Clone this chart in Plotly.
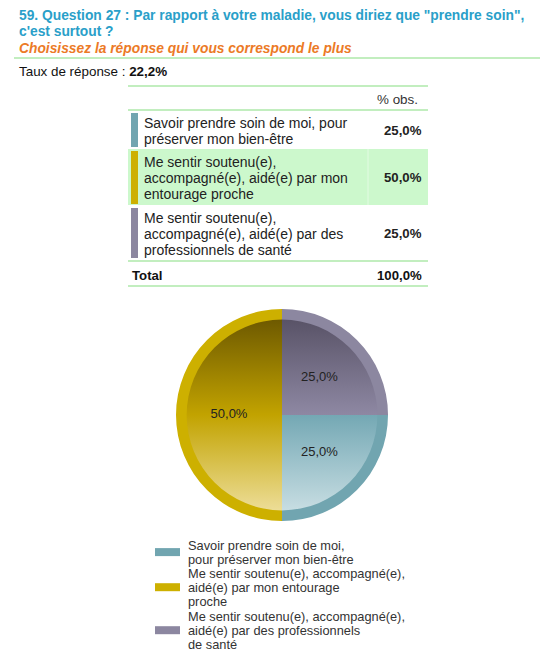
import numpy as np
import plotly.graph_objects as go

W, H = 540, 661

# ---- data -------------------------------------------------------------
title_lines = ['59. Question 27 : Par rapport à votre maladie, vous diriez que "prendre soin",',
               "c'est surtout ?"]
subtitle = "Choisissez la réponse qui vous correspond le plus"
response_rate = 22.2

categories = [
    "Savoir prendre soin de moi, pour<br>préserver mon bien-être",
    "Me sentir soutenu(e),<br>accompagné(e), aidé(e) par mon<br>entourage proche",
    "Me sentir soutenu(e),<br>accompagné(e), aidé(e) par des<br>professionnels de santé",
]
legend_labels = [
    "Savoir prendre soin de moi,<br>pour préserver mon bien-être",
    "Me sentir soutenu(e), accompagné(e),<br>aidé(e) par mon entourage<br>proche",
    "Me sentir soutenu(e), accompagné(e),<br>aidé(e) par des professionnels<br>de santé",
]
values = [25.0, 50.0, 25.0]

# ring colour and vertical gradient (bottom -> top) of each slice
ring_colors = ["#71a5b0", "#cdb000", "#8c87a0"]
grad_colors = [
    [[0, "#cadfe4"], [1, "#74a8b4"]],
    [[0, "#eedf9c"], [0.5, "#c2a300"], [1, "#6b5700"]],
    [[0, "#8e88a3"], [1, "#575165"]],
]

FONT = "Arial, Liberation Sans, sans-serif"
TITLE_BLUE = "#2a9fc9"
ORANGE = "#ec7a26"
GREEN_LINE = "#86dd80"
ROW_HL = "#ccf8cc"


def fx(px):
    return px / W


def fy(py):
    return 1 - py / H


def pct(v):
    return f"{v:.1f}%".replace(".", ",")


fig = go.Figure()
annotations = []
shapes = []


def text(x, y, s, size=13, color="#222", anchor="left", bold=False, italic=False):
    annotations.append(dict(
        x=fx(x), y=fy(y), xref="paper", yref="paper", text=s, showarrow=False,
        xanchor=anchor, yanchor="middle", align=anchor,
        font=dict(family=FONT, size=size, color=color,
                  weight="bold" if bold else "normal",
                  style="italic" if italic else "normal"),
    ))


def hline(y, x0, x1, color=GREEN_LINE, width=1.2):
    shapes.append(dict(type="line", xref="paper", yref="paper",
                       x0=fx(x0), x1=fx(x1), y0=fy(y), y1=fy(y),
                       line=dict(color=color, width=width)))


def rect(x0, y0, x1, y1, color):
    shapes.append(dict(type="rect", xref="paper", yref="paper",
                       x0=fx(x0), x1=fx(x1), y0=fy(y1), y1=fy(y0),
                       fillcolor=color, line=dict(width=0), layer="below"))


# ---- heading ----------------------------------------------------------
text(17, 15, title_lines[0], size=13.8, color=TITLE_BLUE, bold=True)
text(17, 31, title_lines[1], size=13.8, color=TITLE_BLUE, bold=True)
text(17, 48, subtitle, size=13.8, color=ORANGE, bold=True, italic=True)
hline(58, 14, 540)
text(17, 72, "Taux de réponse : <b>" + pct(response_rate) + "</b>", size=13.4, color="#111")

# ---- table ------------------------------------------------------------
TL, TR = 128, 428
hline(86, TL, TR)
text(420, 99, "% obs.", size=13.4, color="#333", anchor="right")
hline(110, TL, TR)

row_top = [111, 149, 206]
row_bot = [148, 205, 259]
line_pitch = 16
for i, (cat, v) in enumerate(zip(categories, values)):
    if i == 1:
        rect(TL, row_top[i], TR, row_bot[i], ROW_HL)
        shapes.append(dict(type="line", xref="paper", yref="paper",
                           x0=fx(368), x1=fx(368), y0=fy(row_top[i]), y1=fy(row_bot[i]),
                           line=dict(color="#e2fbe2", width=1), layer="below"))
    rect(131, row_top[i] + 2, 138, row_bot[i] - 1, ring_colors[i])
    lines = cat.split("<br>")
    mid = (row_top[i] + row_bot[i]) / 2 + 1
    first = mid - (len(lines) - 1) * line_pitch / 2
    for k, ln in enumerate(lines):
        text(142, first + k * line_pitch, ln, size=14, color="#222")
    text(424, mid, "<b>" + pct(v) + "</b>", size=13.2, color="#222", anchor="right")

hline(261, TL, TR)
text(130, 275, "<b>Total</b>", size=13.2, color="#111")
text(424, 275, "<b>" + pct(sum(values)) + "</b>", size=13.2, color="#111", anchor="right")
hline(286, TL, TR)

# ---- pie --------------------------------------------------------------
CX, CY, R = 282, 415, 106
HOLE = 0.9

# gradient-filled interior of each slice, on axes scaled so the pie radius is 1
fracs = np.array(values) / sum(values)
start_cw = 90.0  # first slice starts at 3 o'clock, slices run clockwise
edges_cw = start_cw + 360 * np.concatenate([[0], np.cumsum(fracs)])
for i in range(len(values)):
    a = np.radians(90 - np.linspace(edges_cw[i], edges_cw[i + 1], 120))
    rr = HOLE + 0.03
    xs = np.concatenate([[0], rr * np.cos(a), [0]])
    ys = np.concatenate([[0], rr * np.sin(a), [0]])
    fig.add_trace(go.Scatter(
        x=xs, y=ys, mode="lines", fill="toself", line=dict(width=0),
        fillgradient=dict(type="vertical", colorscale=grad_colors[i]),
        hoverinfo="skip", showlegend=False,
    ))
    mid_a = np.radians(90 - (edges_cw[i] + edges_cw[i + 1]) / 2)
    fig.add_trace(go.Scatter(
        x=[0.5 * np.cos(mid_a)], y=[0.5 * np.sin(mid_a)], mode="text",
        text=[pct(values[i])], textposition="middle center",
        textfont=dict(family=FONT, size=13, color="#222"),
        hoverinfo="skip", showlegend=False,
    ))

# outer ring of the slices
fig.add_trace(go.Pie(
    labels=[l.replace("<br>", " ") for l in legend_labels], values=values,
    sort=False, direction="clockwise", rotation=start_cw, hole=HOLE,
    marker=dict(colors=ring_colors, line=dict(width=0)),
    textinfo="none", hoverinfo="label+percent", showlegend=False,
    domain=dict(x=[fx(CX - R), fx(CX + R)], y=[fy(CY + R), fy(CY - R)]),
))

# ---- legend -----------------------------------------------------------
leg_first_line = [545, 573, 616]
leg_pitch = 14.2
for i, lab in enumerate(legend_labels):
    lines = lab.split("<br>")
    y0 = leg_first_line[i]
    ymid = y0 + (len(lines) - 1) * leg_pitch / 2
    rect(155, ymid - 4, 180, ymid + 4, ring_colors[i])
    for k, ln in enumerate(lines):
        text(186, y0 + k * leg_pitch, ln, size=12.8, color="#333")

fig.update_layout(
    width=W, height=H, margin=dict(l=0, r=0, t=0, b=0),
    paper_bgcolor="white", plot_bgcolor="rgba(0,0,0,0)",
    xaxis=dict(domain=[0, 1], range=[-CX / R, (W - CX) / R], visible=False, fixedrange=True),
    yaxis=dict(domain=[0, 1], range=[-(H - CY) / R, CY / R], visible=False, fixedrange=True),
    annotations=annotations, shapes=shapes, showlegend=False,
)

fig.write_html("out.html", config=dict(displayModeBar=False))
